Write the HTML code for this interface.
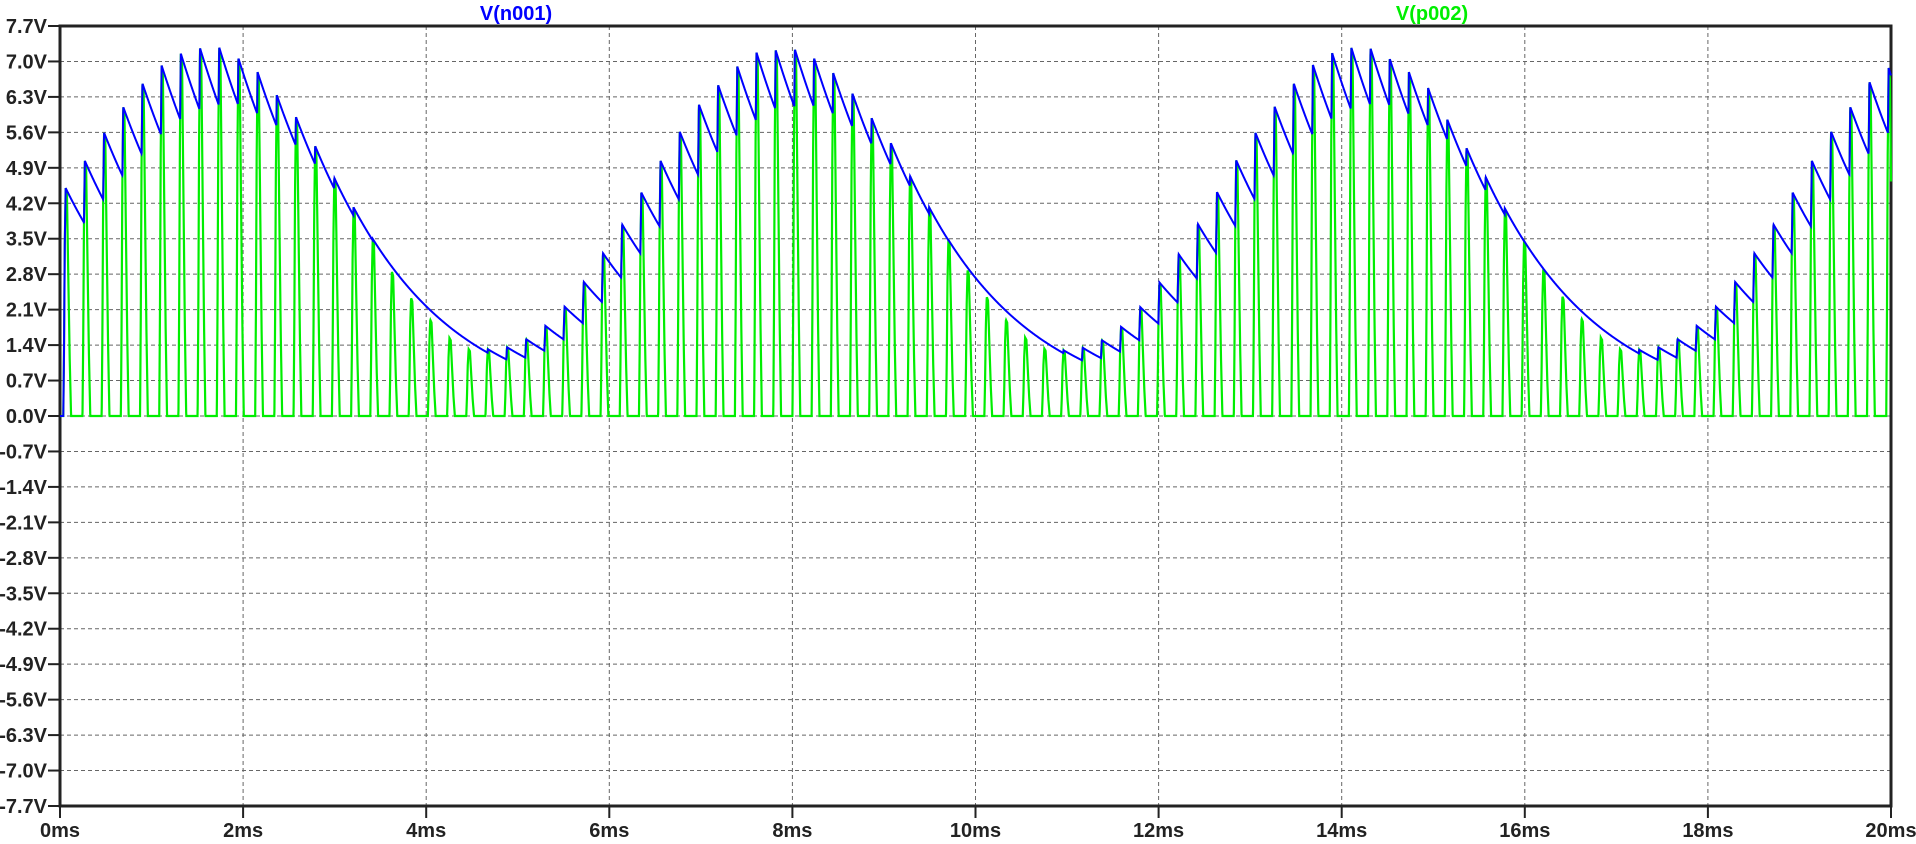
<!DOCTYPE html>
<html>
<head>
<meta charset="utf-8">
<style>
  html,body{margin:0;padding:0;background:#fff;}
  svg{display:block;}
  text{font-family:"Liberation Sans",Arial,sans-serif;font-weight:bold;}
</style>
</head>
<body>
<svg id="chart" width="1916" height="844" viewBox="0 0 1916 844">
  <g id="grid"></g>
  <g id="axes"></g>
  <g id="series"></g>
  <text x="516" y="20" text-anchor="middle" font-size="20" fill="#0000ff">V(n001)</text>
  <text x="1432" y="20" text-anchor="middle" font-size="20" fill="#00ee00">V(p002)</text>
</svg>
<script>
// ---- data ----
const yTickValues = [7.7,7.0,6.3,5.6,4.9,4.2,3.5,2.8,2.1,1.4,0.7,0.0,-0.7,-1.4,-2.1,-2.8,-3.5,-4.2,-4.9,-5.6,-6.3,-7.0,-7.7];
const yTickLabels = ["7.7V","7.0V","6.3V","5.6V","4.9V","4.2V","3.5V","2.8V","2.1V","1.4V","0.7V","0.0V","-0.7V","-1.4V","-2.1V","-2.8V","-3.5V","-4.2V","-4.9V","-5.6V","-6.3V","-7.0V","-7.7V"];
const xTickValues = [0,2,4,6,8,10,12,14,16,18,20];
const xTickLabels = ["0ms","2ms","4ms","6ms","8ms","10ms","12ms","14ms","16ms","18ms","20ms"];
const pulseStart = 0.036;   // ms
const pulsePeriod = 0.2096; // ms
const decayTau = 1.22;      // ms
const greenPeaks = [
  4.5,5.04,5.6,6.11,6.58,6.92,7.16,7.27,7.29,7.08,6.79,6.34,5.91,5.34,4.71,4.12,3.5,2.85,2.33,1.9,1.54,1.32,1.32,1.36,1.52,1.78,2.16,2.65,3.22,3.79,
  4.41,5.04,5.62,6.16,6.55,6.9,7.18,7.23,7.25,7.08,6.77,6.37,5.89,5.4,4.75,4.12,3.48,2.88,2.35,1.9,1.55,1.33,1.3,1.35,1.5,1.76,2.15,2.64,3.2,3.8,
  4.42,5.05,5.6,6.12,6.58,6.93,7.17,7.28,7.27,7.07,6.79,6.48,5.86,5.3,4.73,4.1,3.46,2.9,2.36,1.92,1.55,1.32,1.31,1.36,1.52,1.78,2.16,2.65,3.22,3.79,
  4.41,5.04,5.62,6.11,6.61,6.87
];

// ---- scales ----
const X0 = 60, X1 = 1891, Y0 = 26, Y1 = 806;
const xS = t => X0 + (t - 0) / 20 * (X1 - X0);
const yS = v => Y0 + (7.7 - v) / 15.4 * (Y1 - Y0);
const NS = "http://www.w3.org/2000/svg";
function mk(tag, attrs, parent) {
  const e = document.createElementNS(NS, tag);
  for (const k in attrs) e.setAttribute(k, attrs[k]);
  parent.appendChild(e);
  return e;
}
const grid = document.getElementById('grid');
const axes = document.getElementById('axes');
const series = document.getElementById('series');

// grid + ticks
yTickValues.forEach((v, i) => {
  const y = yS(v);
  if (i > 0 && i < yTickValues.length - 1) {
    const g = mk('line', {x1: X0, x2: X1, y1: y, y2: y, stroke: '#666', 'stroke-width': 1, 'stroke-dasharray': '4,3'}, grid);
    
    
  }
  const tk = mk('line', {x1: 48, x2: X0, y1: y, y2: y, stroke: '#222', 'stroke-width': 2}, axes);
  
  
  const tx = mk('text', {x: 47, y: y + 7, 'text-anchor': 'end', 'font-size': 20, fill: '#222'}, axes);
  tx.textContent = yTickLabels[i];
  
  
});
xTickValues.forEach((t, i) => {
  const x = xS(t);
  if (i > 0 && i < xTickValues.length - 1) {
    const g = mk('line', {x1: x, x2: x, y1: Y0, y2: Y1, stroke: '#666', 'stroke-width': 1, 'stroke-dasharray': '4,3'}, grid);
    
    
  }
  const tk = mk('line', {x1: x, x2: x, y1: Y1, y2: 818, stroke: '#222', 'stroke-width': 2}, axes);
  
  
  const tx = mk('text', {x: x, y: 837, 'text-anchor': 'middle', 'font-size': 20, fill: '#222'}, axes);
  tx.textContent = xTickLabels[i];
  
  
});
const frame = mk('rect', {x: X0, y: Y0, width: X1 - X0, height: Y1 - Y0, fill: 'none', stroke: '#222', 'stroke-width': 3}, axes);



// ---- green pulse waveform ----
const shapeT = [0, 0.008, 0.016, 0.026, 0.04, 0.055, 0.07, 0.085];
const shapeF = [0, 0.3, 0.75, 1, 0.97, 0.6, 0.25, 0];
function greenAt(t) {
  const k = Math.floor((t - pulseStart) / pulsePeriod);
  if (k < 0 || k >= greenPeaks.length) return 0;
  const d = t - (pulseStart + k * pulsePeriod);
  if (d >= shapeT[shapeT.length - 1]) return 0;
  for (let j = 1; j < shapeT.length; j++) {
    if (d <= shapeT[j]) {
      const f = shapeF[j - 1] + (shapeF[j] - shapeF[j - 1]) * (d - shapeT[j - 1]) / (shapeT[j] - shapeT[j - 1]);
      return f * greenPeaks[k];
    }
  }
  return 0;
}
const dt = 0.002;
let gPts = [], bPts = [];
let blue = 0;
const decay = Math.exp(-dt / decayTau);
for (let t = 0; t <= 20.0001; t += dt) {
  const g = greenAt(t);
  blue = Math.max(g, blue * decay);
  gPts.push(xS(t).toFixed(2) + ',' + yS(g).toFixed(2));
  bPts.push(xS(t).toFixed(2) + ',' + yS(blue).toFixed(2));
}
const gLine = mk('polyline', {points: gPts.join(' '), fill: 'none', stroke: '#00ee00', 'stroke-width': 2.2, 'stroke-linejoin': 'miter'}, series);


const bLine = mk('polyline', {points: bPts.join(' '), fill: 'none', stroke: '#0000ff', 'stroke-width': 2}, series);


// keep green pulses on top of blue where they overlap at the peaks
series.appendChild(gLine);
series.appendChild(bLine);
</script>
</body>
</html>
